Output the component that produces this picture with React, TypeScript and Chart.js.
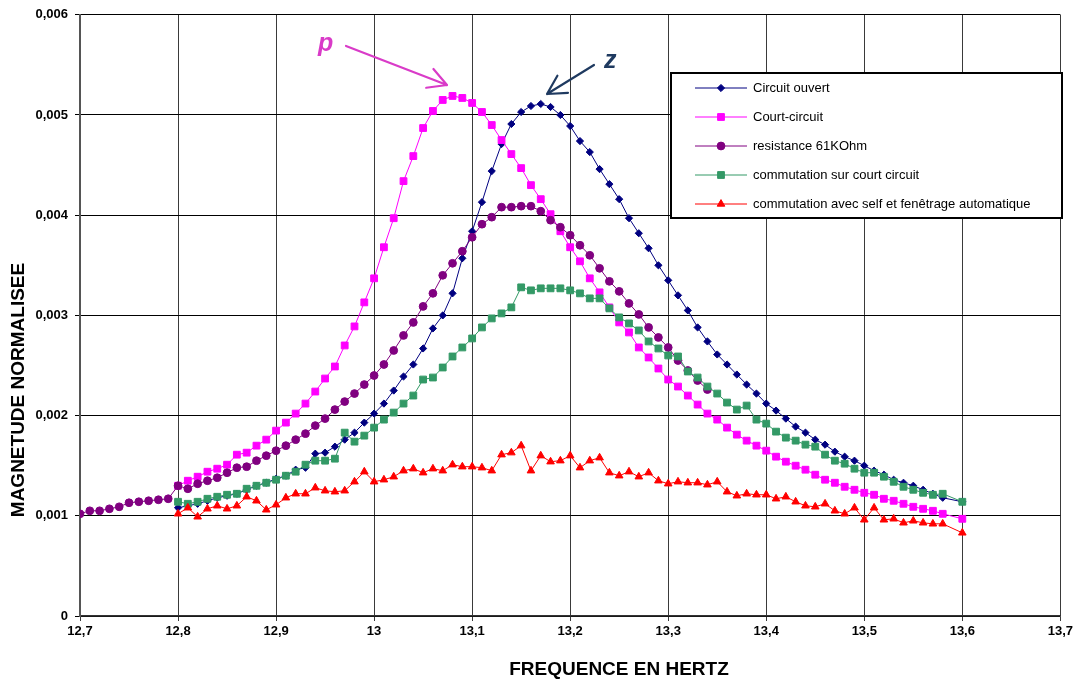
import React, { useEffect, useRef } from 'react';
import { Chart, registerables } from 'chart.js';

Chart.register(...registerables);

// Frequencies (Hz) of the measurements
const FREQ = [
  12.80, 12.81, 12.82, 12.83, 12.84, 12.85, 12.86, 12.87, 12.88, 12.89,
  12.90, 12.91, 12.92, 12.93, 12.94, 12.95, 12.96, 12.97, 12.98, 12.99,
  13.00, 13.01, 13.02, 13.03, 13.04, 13.05, 13.06, 13.07, 13.08, 13.09,
  13.10, 13.11, 13.12, 13.13, 13.14, 13.15, 13.16, 13.17, 13.18, 13.19,
  13.20, 13.21, 13.22, 13.23, 13.24, 13.25, 13.26, 13.27, 13.28, 13.29,
  13.30, 13.31, 13.32, 13.33, 13.34, 13.35, 13.36, 13.37, 13.38, 13.39,
  13.40, 13.41, 13.42, 13.43, 13.44, 13.45, 13.46, 13.47, 13.48, 13.49,
  13.50, 13.51, 13.52, 13.53, 13.54, 13.55, 13.56, 13.57, 13.58, 13.60,
];

const FREQ_RESISTANCE = [
  12.70, 12.71, 12.72, 12.73, 12.74, 12.75, 12.76, 12.77, 12.78, 12.79,
  12.80, 12.81, 12.82, 12.83, 12.84, 12.85, 12.86, 12.87, 12.88, 12.89,
  12.90, 12.91, 12.92, 12.93, 12.94, 12.95, 12.96, 12.97, 12.98, 12.99,
  13.00, 13.01, 13.02, 13.03, 13.04, 13.05, 13.06, 13.07, 13.08, 13.09,
  13.10, 13.11, 13.12, 13.13, 13.14, 13.15, 13.16, 13.17, 13.18, 13.19,
  13.20, 13.21, 13.22, 13.23, 13.24, 13.25, 13.26, 13.27, 13.28, 13.29,
  13.30, 13.31, 13.32, 13.33, 13.34,
];

const CIRCUIT_OUVERT = [
  0.00108, 0.00110, 0.00112, 0.00115, 0.00118, 0.00120, 0.00122, 0.00126, 0.00130, 0.00133,
  0.00137, 0.00140, 0.00146, 0.00148, 0.00162, 0.00163, 0.00169, 0.00176, 0.00183, 0.00193,
  0.00202, 0.00212, 0.00225, 0.00239, 0.00251, 0.00267, 0.00287, 0.00300, 0.00322, 0.00357,
  0.00384, 0.00413, 0.00444, 0.00471, 0.00491, 0.00503, 0.00509, 0.00511, 0.00508, 0.00500,
  0.00489, 0.00474, 0.00463, 0.00446, 0.00431, 0.00416, 0.00397, 0.00382, 0.00367, 0.00350,
  0.00335, 0.00320, 0.00305, 0.00288, 0.00274, 0.00261, 0.00251, 0.00241, 0.00231, 0.00222,
  0.00212, 0.00205, 0.00197, 0.00189, 0.00183, 0.00176, 0.00171, 0.00164, 0.00159, 0.00155,
  0.00150, 0.00145, 0.00141, 0.00136, 0.00133, 0.00130, 0.00126, 0.00122, 0.00118, 0.00114,
];

const COURT_CIRCUIT = [
  0.00130, 0.00135, 0.00139, 0.00144, 0.00147, 0.00151, 0.00161, 0.00163, 0.00170, 0.00176,
  0.00185, 0.00193, 0.00202, 0.00212, 0.00224, 0.00237, 0.00249, 0.00270, 0.00289, 0.00313,
  0.00337, 0.00368, 0.00397, 0.00434, 0.00459, 0.00487, 0.00504, 0.00515, 0.00519, 0.00517,
  0.00512, 0.00503, 0.00490, 0.00475, 0.00461, 0.00447, 0.00430, 0.00416, 0.00401, 0.00384,
  0.00368, 0.00354, 0.00337, 0.00323, 0.00308, 0.00293, 0.00283, 0.00268, 0.00258, 0.00247,
  0.00236, 0.00229, 0.00220, 0.00211, 0.00202, 0.00196, 0.00188, 0.00181, 0.00175, 0.00170,
  0.00165, 0.00159, 0.00154, 0.00150, 0.00146, 0.00141, 0.00136, 0.00133, 0.00129, 0.00126,
  0.00123, 0.00121, 0.00117, 0.00115, 0.00112, 0.00109, 0.00107, 0.00105, 0.00102, 0.00097,
];

const RESISTANCE_61K = [
  0.00102, 0.00105, 0.00105, 0.00107, 0.00109, 0.00113, 0.00114, 0.00115, 0.00116, 0.00117,
  0.00130, 0.00127, 0.00132, 0.00135, 0.00138, 0.00143, 0.00148, 0.00149, 0.00155, 0.00160,
  0.00165, 0.00170, 0.00176, 0.00182, 0.00190, 0.00197, 0.00206, 0.00214, 0.00222, 0.00231,
  0.00240, 0.00251, 0.00265, 0.00280, 0.00293, 0.00309, 0.00322, 0.00340, 0.00352, 0.00364,
  0.00378, 0.00391, 0.00398, 0.00408, 0.00408, 0.00409, 0.00409, 0.00404, 0.00395, 0.00388,
  0.00380, 0.00370, 0.00360, 0.00347, 0.00334, 0.00324, 0.00312, 0.00301, 0.00288, 0.00278,
  0.00268, 0.00255, 0.00245, 0.00235, 0.00226,
];

const COMMUTATION_CC = [
  0.00114, 0.00112, 0.00114, 0.00117, 0.00119, 0.00121, 0.00122, 0.00127, 0.00130, 0.00133,
  0.00136, 0.00140, 0.00144, 0.00151, 0.00155, 0.00155, 0.00157, 0.00183, 0.00174, 0.00180,
  0.00188, 0.00196, 0.00203, 0.00212, 0.00220, 0.00236, 0.00238, 0.00248, 0.00259, 0.00268,
  0.00277, 0.00288, 0.00297, 0.00302, 0.00308, 0.00328, 0.00325, 0.00327, 0.00327, 0.00327,
  0.00325, 0.00322, 0.00317, 0.00317, 0.00307, 0.00298, 0.00292, 0.00285, 0.00274, 0.00267,
  0.00260, 0.00259, 0.00244, 0.00238, 0.00229, 0.00222, 0.00213, 0.00206, 0.00210, 0.00196,
  0.00192, 0.00184, 0.00178, 0.00175, 0.00171, 0.00169, 0.00161, 0.00155, 0.00152, 0.00147,
  0.00143, 0.00143, 0.00139, 0.00134, 0.00129, 0.00126, 0.00123, 0.00121, 0.00122, 0.00114,
];

const COMMUTATION_SELF = [
  0.00102, 0.00108, 0.00099, 0.00107, 0.00110, 0.00107, 0.00110, 0.00119, 0.00115, 0.00106,
  0.00111, 0.00118, 0.00122, 0.00122, 0.00128, 0.00125, 0.00124, 0.00125, 0.00134, 0.00144,
  0.00134, 0.00136, 0.00139, 0.00145, 0.00147, 0.00143, 0.00147, 0.00145, 0.00151, 0.00149,
  0.00149, 0.00148, 0.00145, 0.00161, 0.00163, 0.00170, 0.00145, 0.00160, 0.00154, 0.00155,
  0.00160, 0.00148, 0.00155, 0.00158, 0.00143, 0.00140, 0.00144, 0.00139, 0.00143, 0.00135,
  0.00132, 0.00134, 0.00133, 0.00133, 0.00131, 0.00134, 0.00124, 0.00120, 0.00122, 0.00121,
  0.00121, 0.00117, 0.00119, 0.00114, 0.00110, 0.00109, 0.00112, 0.00105, 0.00102, 0.00108,
  0.00096, 0.00108, 0.00096, 0.00097, 0.00093, 0.00095, 0.00093, 0.00092, 0.00092, 0.00083,
];

const SERIES_NAMES = [
  'Circuit ouvert',
  'Court-circuit',
  'resistance 61KOhm',
  'commutation sur court circuit',
  'commutation avec self et fenêtrage automatique',
];
const SERIES_COLORS = ['#000080', '#FF00FF', '#800080', '#339966', '#FF0000'];
const SERIES_MARKERS = ['rectRot', 'rect', 'circle', 'rect', 'triangle'];
const SERIES_RADII = [3.6, 4.8, 3.9, 4.8, 4.4];

const X_TICK_LABELS = ['12,7', '12,8', '12,9', '13', '13,1', '13,2', '13,3', '13,4', '13,5', '13,6', '13,7'];
const Y_TICK_LABELS = ['0', '0,001', '0,002', '0,003', '0,004', '0,005', '0,006'];
const X_TITLE = 'FREQUENCE EN HERTZ';
const Y_TITLE = 'MAGNETUDE NORMALISEE';

const FONT = '"Liberation Sans", Arial, sans-serif';

function drawMarker(ctx: CanvasRenderingContext2D, style: string, x: number, y: number, r: number, color: string) {
  ctx.save();
  ctx.fillStyle = color;
  ctx.strokeStyle = color;
  ctx.lineWidth = 1;
  ctx.beginPath();
  if (style === 'circle') {
    ctx.arc(x, y, r, 0, Math.PI * 2);
  } else if (style === 'rect') {
    const s = r * Math.SQRT1_2;
    ctx.rect(x - s, y - s, 2 * s, 2 * s);
  } else if (style === 'rectRot') {
    ctx.moveTo(x - r, y);
    ctx.lineTo(x, y - r);
    ctx.lineTo(x + r, y);
    ctx.lineTo(x, y + r);
    ctx.closePath();
  } else if (style === 'triangle') {
    const e = (3 * r) / Math.sqrt(3);
    const h = (e * Math.sqrt(3)) / 2;
    ctx.moveTo(x - e / 2, y + h / 3);
    ctx.lineTo(x + e / 2, y + h / 3);
    ctx.lineTo(x, y - (2 * h) / 3);
    ctx.closePath();
  }
  ctx.fill();
  ctx.stroke();
  ctx.restore();
}

function drawArrow(ctx: CanvasRenderingContext2D, x1: number, y1: number, x2: number, y2: number, color: string) {
  const ang = Math.atan2(y2 - y1, x2 - x1);
  const head = 21;
  const spread = 0.5;
  ctx.save();
  ctx.strokeStyle = color;
  ctx.lineWidth = 2.2;
  ctx.lineCap = 'round';
  ctx.lineJoin = 'round';
  ctx.beginPath();
  ctx.moveTo(x1, y1);
  ctx.lineTo(x2, y2);
  ctx.moveTo(x2 - head * Math.cos(ang - spread), y2 - head * Math.sin(ang - spread));
  ctx.lineTo(x2, y2);
  ctx.lineTo(x2 - head * Math.cos(ang + spread), y2 - head * Math.sin(ang + spread));
  ctx.stroke();
  ctx.restore();
}

const extrasPlugin = {
  id: 'extras',
  afterDraw(chart: any) {
    const ctx: CanvasRenderingContext2D = chart.ctx;
    ctx.save();

    // Axis titles
    ctx.fillStyle = '#000';
    ctx.font = `bold 19px ${FONT}`;
    ctx.textAlign = 'center';
    ctx.textBaseline = 'middle';
    ctx.fillText(X_TITLE, 619, 670);
    ctx.save();
    ctx.translate(19, 390);
    ctx.rotate(-Math.PI / 2);
    ctx.fillText(Y_TITLE, 0, 0);
    ctx.restore();

    // Legend box
    const lx = 671, ly = 73, lw = 391, lh = 145;
    ctx.fillStyle = '#fff';
    ctx.fillRect(lx, ly, lw, lh);
    ctx.strokeStyle = '#000';
    ctx.lineWidth = 2;
    ctx.strokeRect(lx, ly, lw, lh);
    ctx.font = `13px ${FONT}`;
    ctx.textAlign = 'left';
    ctx.textBaseline = 'middle';
    SERIES_NAMES.forEach((name, i) => {
      const y = 88 + i * 29;
      ctx.strokeStyle = SERIES_COLORS[i];
      ctx.lineWidth = 1;
      ctx.beginPath();
      ctx.moveTo(695, y);
      ctx.lineTo(747, y);
      ctx.stroke();
      drawMarker(ctx, SERIES_MARKERS[i], 721, y, SERIES_RADII[i], SERIES_COLORS[i]);
      ctx.fillStyle = '#000';
      ctx.fillText(name, 753, y);
    });

    // Annotations p and z
    ctx.font = `italic bold 25px ${FONT}`;
    ctx.textAlign = 'left';
    ctx.textBaseline = 'alphabetic';
    ctx.fillStyle = '#D93BC8';
    ctx.fillText('p', 318, 51);
    drawArrow(ctx, 346, 46, 447, 85, '#D93BC8');
    ctx.fillStyle = '#1F3A60';
    ctx.fillText('z', 604, 68);
    drawArrow(ctx, 594, 65, 547, 94, '#1F3A60');

    ctx.restore();
  },
};

export default function App() {
  const canvasRef = useRef<HTMLCanvasElement | null>(null);

  useEffect(() => {
    document.body.style.margin = '0';
    const canvas = canvasRef.current;
    if (!canvas) return;

    const seriesX = [FREQ, FREQ, FREQ_RESISTANCE, FREQ, FREQ];
    const seriesY = [CIRCUIT_OUVERT, COURT_CIRCUIT, RESISTANCE_61K, COMMUTATION_CC, COMMUTATION_SELF];
    const orders = [5, 4, 3, 2, 1];

    const datasets = SERIES_NAMES.map((name, i) => ({
      label: name,
      data: seriesX[i].map((x, j) => ({ x, y: seriesY[i][j] })),
      borderColor: SERIES_COLORS[i],
      backgroundColor: SERIES_COLORS[i],
      pointBackgroundColor: SERIES_COLORS[i],
      pointBorderColor: SERIES_COLORS[i],
      pointBorderWidth: 1,
      pointStyle: SERIES_MARKERS[i] as any,
      pointRadius: SERIES_RADII[i],
      borderWidth: 1,
      tension: 0,
      fill: false,
      order: orders[i],
    }));

    const chart = new Chart(canvas, {
      type: 'line',
      data: { datasets },
      options: {
        animation: false,
        responsive: false,
        maintainAspectRatio: false,
        layout: { padding: { left: 0, top: 12, right: 15, bottom: 0 } },
        plugins: {
          legend: { display: false },
          tooltip: { enabled: false },
          title: { display: false },
        },
        scales: {
          x: {
            type: 'linear',
            min: 12.7,
            max: 13.7,
            afterFit: (s: any) => { s.height = 67; },
            ticks: {
              stepSize: 0.1,
              autoSkip: false,
              maxRotation: 0,
              padding: 3,
              color: '#000',
              font: { family: FONT, size: 13, weight: 'bold' },
              callback: (_v: any, i: number) => X_TICK_LABELS[i],
            },
            grid: { color: '#3a3a3a', lineWidth: 1, tickLength: 5, drawTicks: true },
            border: { display: true, color: '#333', width: 1.5 },
          },
          y: {
            type: 'linear',
            min: 0,
            max: 0.006,
            afterFit: (s: any) => { s.width = 80; },
            ticks: {
              stepSize: 0.001,
              autoSkip: false,
              padding: 7,
              color: '#000',
              font: { family: FONT, size: 13, weight: 'bold' },
              callback: (_v: any, i: number) => Y_TICK_LABELS[i],
            },
            grid: { color: '#000', lineWidth: 1, tickLength: 5, drawTicks: true },
            border: { display: true, color: '#555', width: 2 },
          },
        },
      },
      plugins: [extrasPlugin],
    });

    return () => chart.destroy();
  }, []);

  return (
    <div style={{ position: 'relative', width: 1076, height: 683, background: '#fff' }}>
      <canvas ref={canvasRef} width={1076} height={683} style={{ display: 'block' }} />
    </div>
  );
}
